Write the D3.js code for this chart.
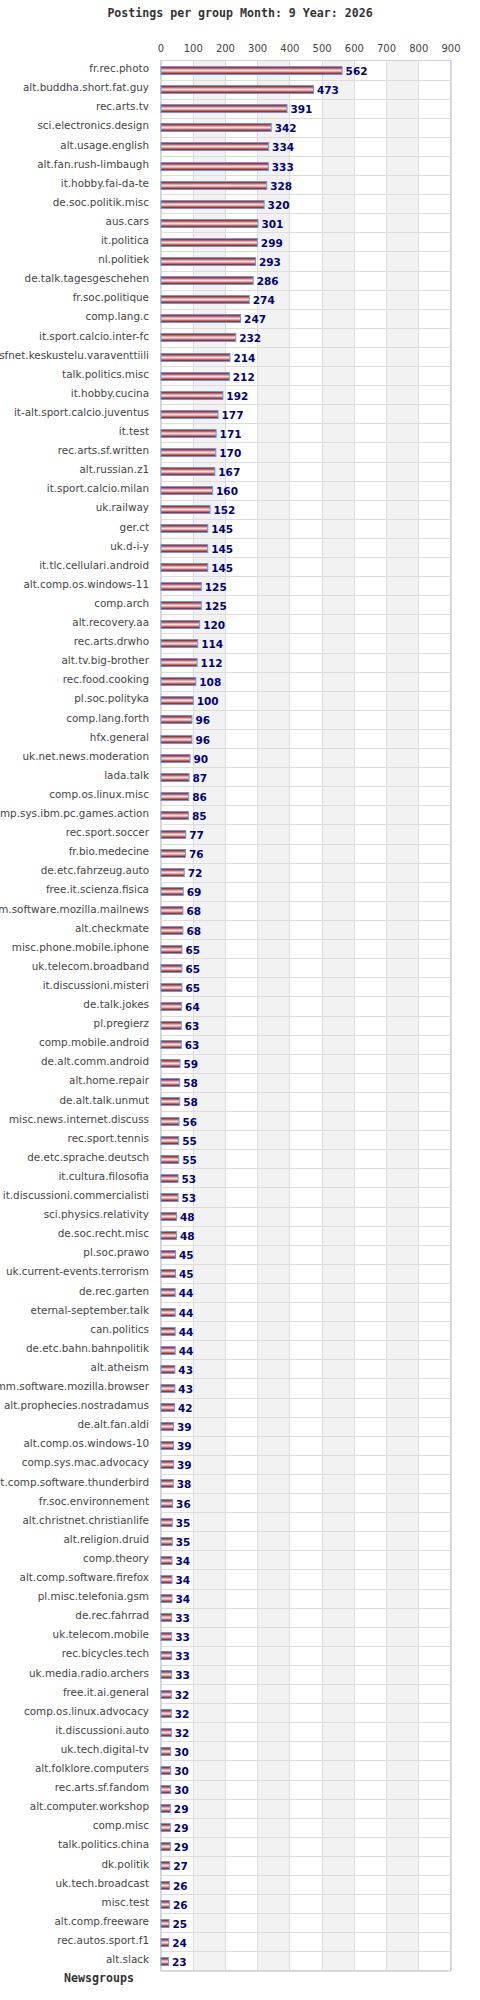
<!DOCTYPE html>
<html><head><meta charset="utf-8">
<script src="https://cdn.jsdelivr.net/npm/d3@7"></script>
<style>
html,body{margin:0;padding:0;background:#fff;}
svg{display:block;}
</style>
</head><body>
<svg id="chart" width="480" height="2000"></svg>
<script>
const title = "Postings per group Month: 9 Year: 2026";
const axisLabel = "Newsgroups";
const groups = [
"fr.rec.photo","alt.buddha.short.fat.guy","rec.arts.tv","sci.electronics.design","alt.usage.english",
"alt.fan.rush-limbaugh","it.hobby.fai-da-te","de.soc.politik.misc","aus.cars","it.politica",
"nl.politiek","de.talk.tagesgeschehen","fr.soc.politique","comp.lang.c","it.sport.calcio.inter-fc",
"sfnet.keskustelu.varaventtiili","talk.politics.misc","it.hobby.cucina","it-alt.sport.calcio.juventus","it.test",
"rec.arts.sf.written","alt.russian.z1","it.sport.calcio.milan","uk.railway","ger.ct",
"uk.d-i-y","it.tlc.cellulari.android","alt.comp.os.windows-11","comp.arch","alt.recovery.aa",
"rec.arts.drwho","alt.tv.big-brother","rec.food.cooking","pl.soc.polityka","comp.lang.forth",
"hfx.general","uk.net.news.moderation","lada.talk","comp.os.linux.misc","comp.sys.ibm.pc.games.action",
"rec.sport.soccer","fr.bio.medecine","de.etc.fahrzeug.auto","free.it.scienza.fisica","comm.software.mozilla.mailnews",
"alt.checkmate","misc.phone.mobile.iphone","uk.telecom.broadband","it.discussioni.misteri","de.talk.jokes",
"pl.pregierz","comp.mobile.android","de.alt.comm.android","alt.home.repair","de.alt.talk.unmut",
"misc.news.internet.discuss","rec.sport.tennis","de.etc.sprache.deutsch","it.cultura.filosofia","it.discussioni.commercialisti",
"sci.physics.relativity","de.soc.recht.misc","pl.soc.prawo","uk.current-events.terrorism","de.rec.garten",
"eternal-september.talk","can.politics","de.etc.bahn.bahnpolitik","alt.atheism","comm.software.mozilla.browser",
"alt.prophecies.nostradamus","de.alt.fan.aldi","alt.comp.os.windows-10","comp.sys.mac.advocacy","alt.comp.software.thunderbird",
"fr.soc.environnement","alt.christnet.christianlife","alt.religion.druid","comp.theory","alt.comp.software.firefox",
"pl.misc.telefonia.gsm","de.rec.fahrrad","uk.telecom.mobile","rec.bicycles.tech","uk.media.radio.archers",
"free.it.ai.general","comp.os.linux.advocacy","it.discussioni.auto","uk.tech.digital-tv","alt.folklore.computers",
"rec.arts.sf.fandom","alt.computer.workshop","comp.misc","talk.politics.china","dk.politik",
"uk.tech.broadcast","misc.test","alt.comp.freeware","rec.autos.sport.f1","alt.slack"
];
const postings = [
562,473,391,342,334,
333,328,320,301,299,
293,286,274,247,232,
214,212,192,177,171,
170,167,160,152,145,
145,145,125,125,120,
114,112,108,100,96,
96,90,87,86,85,
77,76,72,69,68,
68,65,65,65,64,
63,63,59,58,58,
56,55,55,53,53,
48,48,45,45,44,
44,44,44,43,43,
42,39,39,39,38,
36,35,35,34,34,
34,33,33,33,33,
32,32,32,30,30,
30,29,29,29,27,
26,26,25,24,23
];
const ticks = [0,100,200,300,400,500,600,700,800,900];

const svg = d3.select("#chart");
const pLeft = 160.5, pRight = 450.5, pTop = 60.5, pBottom = 1970.5;

const x = d3.scaleLinear().domain([0, 900]).range([pLeft, pRight]);
const y = d3.scaleBand().domain(groups).range([pTop, pBottom]).paddingInner(0).paddingOuter(0);

// gradient
const defs = svg.append("defs");
const grad = defs.append("linearGradient").attr("id","barGrad").attr("x1",0).attr("y1",0).attr("x2",0).attr("y2",1);
[[0,"#9a1010"],[0.2,"#b84848"],[0.35,"#dca0a0"],[0.5,"#f6e2e2"],[0.65,"#dca0a0"],[0.8,"#b84848"],[1,"#8a0000"]]
  .forEach(([o,c]) => grad.append("stop").attr("offset", o).attr("stop-color", c));

// title
svg.append("text").attr("x", 240).attr("y", 17).attr("text-anchor","middle")
  .attr("font-family","'DejaVu Sans Mono', monospace").attr("font-weight","bold")
  .attr("font-size","11.6px").attr("fill","#333").text(title);

// alternating bands
const bandIdx = d3.range(1, 9, 2);
svg.append("g").selectAll("rect").data(bandIdx).join("rect")
  .attr("x", d => x(ticks[d])).attr("y", pTop)
  .attr("width", d => x(ticks[d+1]) - x(ticks[d])).attr("height", pBottom - pTop)
  .attr("fill", "#f2f2f2");

// vertical grid
svg.append("g").selectAll("line").data(ticks).join("line")
  .attr("x1", d => Math.round(x(d)) + 0.5).attr("x2", d => Math.round(x(d)) + 0.5)
  .attr("y1", pTop).attr("y2", pBottom)
  .attr("stroke", "#dcdcdc").attr("stroke-width", 1);

// horizontal row lines
const rowEdges = groups.map(g => y(g)).concat([pBottom]);
svg.append("g").selectAll("line").data(rowEdges).join("line")
  .attr("x1", pLeft).attr("x2", pRight)
  .attr("y1", d => Math.round(d) + 0.5)
  .attr("y2", d => Math.round(d) + 0.5)
  .attr("stroke", "#dcdcdc").attr("stroke-width", 1);

// border
svg.append("rect").attr("x", pLeft).attr("y", pTop).attr("width", pRight-pLeft).attr("height", pBottom-pTop)
  .attr("fill","none").attr("stroke","#d4d4d4").attr("stroke-width",1);

// top tick labels
const xAxis = d3.axisTop(x).tickValues(ticks).tickSize(0).tickPadding(0);
const ax = svg.append("g").attr("transform", "translate(0,52)").call(xAxis);
ax.select(".domain").remove();
ax.selectAll("text").attr("font-family","'DejaVu Sans', sans-serif").attr("font-size","10px")
  .attr("fill","#444").attr("dy", 0);

// category labels
const yAxis = d3.axisLeft(y).tickSize(0).tickPadding(0);
const ay = svg.append("g").attr("transform", "translate(149,0)").call(yAxis);
ay.select(".domain").remove();
ay.selectAll("text").attr("font-family","'DejaVu Sans', sans-serif").attr("font-size","10.4px")
  .attr("fill","#444").attr("dy","0.2em");

// bars
const bh = 8;
svg.append("g").selectAll("rect").data(groups).join("rect")
  .attr("x", x(0) + 0.5)
  .attr("y", d => Math.round(y(d) + y.bandwidth()/2 - bh/2) + 0.5)
  .attr("width", (d,i) => x(postings[i]) - x(0))
  .attr("height", bh)
  .attr("fill", "url(#barGrad)")
  .attr("stroke", "#5a9cf0").attr("stroke-width", 1);

// value labels
svg.append("g").selectAll("text").data(groups).join("text")
  .attr("x", (d,i) => x(postings[i]) + 4)
  .attr("y", d => y(d) + y.bandwidth()/2 + 5)
  .attr("font-family","'DejaVu Sans', sans-serif").attr("font-weight","bold")
  .attr("font-size","10.5px").attr("fill","#000080")
  .text((d,i) => postings[i]);

// axis label
svg.append("text").attr("x", 99).attr("y", 1982).attr("text-anchor","middle")
  .attr("font-family","'DejaVu Sans Mono', monospace").attr("font-weight","bold")
  .attr("font-size","11.6px").attr("fill","#333").text(axisLabel);
</script>
</body></html>
